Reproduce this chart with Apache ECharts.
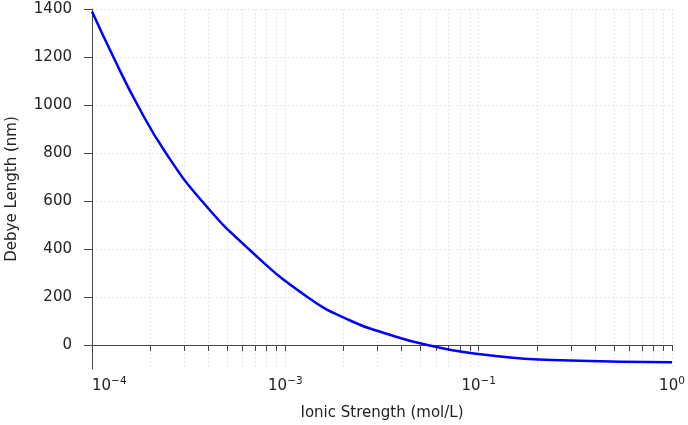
<!DOCTYPE html>
<html>
<head>
<meta charset="utf-8">
<script src="https://cdn.jsdelivr.net/npm/echarts@6/dist/echarts.min.js"></script>
<style>
  html, body { margin: 0; padding: 0; background: #fff; }
  #chart { width: 688px; height: 425px; }
</style>
</head>
<body>
<div id="chart"></div>
<script>
// ionic strength (axis domain) and debye length
const ionicStrength = [1.0e-4, 1.29e-4, 1.72e-4, 2.41e-4, 3.70e-4, 6.46e-4, 1.30e-3,
  2.19e-3, 3.27e-3, 5.43e-3, 1.22e-2, 2.95e-2, 1.0e-1];
const debyeLength = [1390, 1200, 1000, 800, 600, 400, 200,
  100, 49, 0, -46, -65, -72];

// x tick labels as printed: base 10 with these exponents (major decades)
const xLabelValues = [1e-4, 1e-3, 1e-2, 1e-1];
const xLabelExponents = ['−4', '−3', '−1', '0'];
// all ticks incl. minor 2..9 per decade
const xTickValues = [
  1e-4, 2e-4, 3e-4, 4e-4, 5e-4, 6e-4, 7e-4, 8e-4, 9e-4,
  1e-3, 2e-3, 3e-3, 4e-3, 5e-3, 6e-3, 7e-3, 8e-3, 9e-3,
  1e-2, 2e-2, 3e-2, 4e-2, 5e-2, 6e-2, 7e-2, 8e-2, 9e-2,
  1e-1
];
const yTickValues = [0, 200, 400, 600, 800, 1000, 1200, 1400];

const chart = echarts.init(document.getElementById('chart'));
const axisColor = '#444';
const gridColor = '#e4e4e4';
const textColor = '#222';
const font = 'DejaVu Sans';

chart.setOption({
  animation: false,
  grid: { left: 92, right: 16, top: 9, bottom: 56, containLabel: false, outerBoundsMode: 'none' },
  xAxis: {
    type: 'log',
    logBase: 10,
    min: 1e-4,
    max: 1e-1,
    name: 'Ionic Strength (mol/L)',
    nameLocation: 'middle',
    nameGap: 37,
    nameTextStyle: { fontFamily: font, fontSize: 15, color: textColor },
    axisLine: { lineStyle: { color: axisColor, width: 1 } },
    axisTick: { length: 6, lineStyle: { color: axisColor }, customValues: xTickValues },
    axisLabel: {
      customValues: xLabelValues,
      margin: 7,
      alignMinLabel: 'left',
      alignMaxLabel: 'center',
      formatter: function (v) {
        for (let i = 0; i < xLabelValues.length; i++) {
          if (Math.abs(Math.log10(v) - Math.log10(xLabelValues[i])) < 1e-6) {
            return '{b|10}{s|' + xLabelExponents[i] + '}';
          }
        }
        return '';
      },
      rich: {
        b: { fontFamily: font, fontSize: 15, color: textColor, lineHeight: 18, verticalAlign: 'bottom' },
        s: { fontFamily: font, fontSize: 10.5, color: textColor, lineHeight: 12, verticalAlign: 'top' }
      }
    },
    splitLine: { show: true, lineStyle: { color: gridColor, type: [2, 2], width: 1 } },
    minorTick: { show: false },
    minorSplitLine: { show: false }
  },
  yAxis: {
    type: 'value',
    min: -100,
    max: 1400,
    name: 'Debye Length (nm)',
    nameLocation: 'middle',
    nameGap: 72,
    nameTextStyle: { fontFamily: font, fontSize: 15, color: textColor },
    axisLine: { show: true, lineStyle: { color: axisColor, width: 1 } },
    axisTick: { show: true, length: 8, lineStyle: { color: axisColor }, customValues: yTickValues },
    axisLabel: {
      customValues: yTickValues,
      margin: 20,
      fontFamily: font,
      fontSize: 15,
      color: textColor,
      formatter: v => String(v)
    },
    splitLine: { show: true, lineStyle: { color: gridColor, type: [2, 2], width: 1 } }
  },
  series: [{
    type: 'line',
    data: ionicStrength.map((x, i) => [x, debyeLength[i]]),
    smooth: 0.5,
    symbol: 'none',
    lineStyle: { color: '#0000ff', width: 2.5 }
  }]
});
</script>
</body>
</html>
